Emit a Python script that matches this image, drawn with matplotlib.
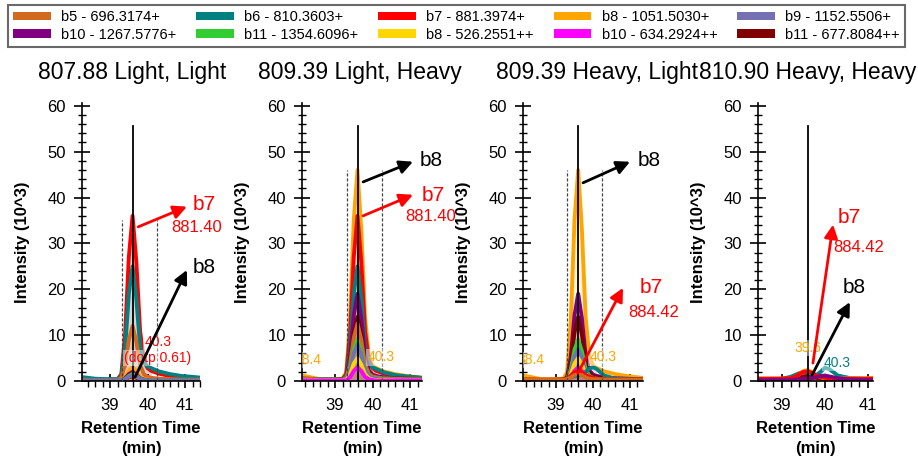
import matplotlib
matplotlib.use("Agg")
import matplotlib.pyplot as plt
from matplotlib.patches import Patch
from matplotlib.ticker import MultipleLocator
from matplotlib import font_manager

names = {f.name for f in font_manager.fontManager.ttflist}
NARROW = 'Liberation Sans Narrow' if 'Liberation Sans Narrow' in names else 'Liberation Sans'
plt.rcParams['font.family'] = ['Liberation Sans', 'DejaVu Sans']

# ---------------- data ----------------
series_labels = ["b5 - 696.3174+", "b6 - 810.3603+", "b7 - 881.3974+", "b8 - 1051.5030+",
                 "b9 - 1152.5506+", "b10 - 1267.5776+", "b11 - 1354.6096+", "b8 - 526.2551++",
                 "b10 - 634.2924++", "b11 - 677.8084++"]
series_colors = ["#D2691E", "#008080", "#FF0000", "#FFA500", "#7570B3",
                 "#800080", "#32CD32", "#FFD700", "#FF00FF", "#800000"]

panel_titles = ["807.88 Light, Light", "809.39 Light, Heavy",
                "809.39 Heavy, Light", "810.90 Heavy, Heavy"]

rt = [38.1, 38.3, 38.6, 38.9, 39.2, 39.3, 39.4, 39.5, 39.6, 39.7,
      39.8, 39.9, 40.0, 40.1, 40.3, 40.6, 40.9, 41.2, 41.45]

# Panel 1: Light, Light  (order = series_labels)
p1 = [
    [0.3, 0.3, 0.2, 0.2, 0.3, 0.6, 3.5, 9.0, 12.0, 8.6, 3.6, 1.5, 0.9, 0.7, 0.5, 0.4, 0.3, 0.3, 0.3],
    [0.9, 0.8, 0.5, 0.4, 0.4, 1.1, 7.0, 19.0, 25.0, 18.0, 7.5, 4.0, 3.2, 2.8, 2.1, 1.5, 1.1, 0.9, 0.7],
    [0.3, 0.3, 0.3, 0.3, 0.4, 1.5, 10.0, 27.0, 36.0, 26.0, 11.0, 4.5, 2.8, 2.2, 1.6, 1.1, 0.9, 0.7, 0.6],
    [0.1, 0.1, 0.1, 0.1, 0.1, 0.2, 0.8, 2.2, 3.0, 2.2, 0.9, 0.4, 0.3, 0.2, 0.2, 0.1, 0.1, 0.1, 0.1],
    [0.1, 0.1, 0.1, 0.1, 0.1, 0.1, 0.4, 0.9, 1.2, 0.9, 0.4, 0.2, 0.1, 0.1, 0.1, 0.1, 0.1, 0.1, 0.1],
    [0.1, 0.1, 0.1, 0.1, 0.1, 0.1, 0.6, 1.5, 2.0, 1.4, 0.6, 0.3, 0.2, 0.1, 0.1, 0.1, 0.1, 0.1, 0.1],
    [0.1, 0.1, 0.1, 0.1, 0.1, 0.1, 0.4, 1.1, 1.5, 1.1, 0.5, 0.2, 0.1, 0.1, 0.1, 0.1, 0.1, 0.1, 0.1],
    [0.1, 0.1, 0.1, 0.1, 0.1, 0.1, 0.2, 0.6, 0.8, 0.6, 0.2, 0.1, 0.1, 0.1, 0.1, 0.1, 0.1, 0.1, 0.1],
    [0.1, 0.1, 0.1, 0.1, 0.1, 0.1, 0.2, 0.4, 0.5, 0.4, 0.2, 0.1, 0.1, 0.1, 0.1, 0.1, 0.1, 0.1, 0.1],
    [0.1, 0.1, 0.1, 0.1, 0.1, 0.1, 0.3, 0.8, 1.0, 0.7, 0.3, 0.2, 0.1, 0.1, 0.1, 0.1, 0.1, 0.1, 0.1],
]
# Panel 2: Light, Heavy
p2 = [
    [0.6, 0.5, 0.3, 0.3, 0.3, 0.7, 3.6, 9.4, 12.5, 9.0, 3.8, 1.6, 1.0, 0.8, 0.6, 0.5, 0.4, 0.4, 0.3],
    [0.6, 0.5, 0.4, 0.4, 0.4, 1.1, 7.0, 19.0, 25.0, 18.0, 7.5, 3.8, 3.0, 2.6, 1.9, 1.3, 1.0, 0.8, 0.6],
    [0.4, 0.3, 0.3, 0.3, 0.4, 1.5, 10.0, 27.0, 36.0, 26.0, 11.0, 4.5, 2.8, 2.2, 1.6, 1.1, 0.9, 0.7, 0.6],
    [1.2, 0.9, 0.4, 0.4, 0.5, 1.9, 13.0, 35.0, 46.0, 33.0, 14.0, 5.5, 3.4, 2.8, 2.1, 1.5, 1.1, 0.8, 0.6],
    [0.2, 0.2, 0.2, 0.2, 0.2, 0.4, 2.2, 6.0, 8.0, 5.8, 2.4, 1.0, 0.6, 0.5, 0.3, 0.3, 0.2, 0.2, 0.2],
    [0.3, 0.3, 0.2, 0.2, 0.3, 0.8, 5.3, 14.3, 19.0, 13.7, 5.7, 2.3, 1.4, 1.1, 0.8, 0.6, 0.5, 0.4, 0.3],
    [0.2, 0.2, 0.2, 0.2, 0.2, 0.4, 2.5, 6.8, 9.0, 6.5, 2.7, 1.1, 0.7, 0.5, 0.4, 0.3, 0.2, 0.2, 0.2],
    [0.1, 0.1, 0.1, 0.1, 0.1, 0.2, 1.4, 3.8, 5.0, 3.6, 1.5, 0.6, 0.3, 0.2, 0.2, 0.1, 0.1, 0.1, 0.1],
    [0.1, 0.1, 0.1, 0.1, 0.1, 0.1, 0.8, 2.2, 3.0, 2.2, 0.9, 0.4, 0.2, 0.1, 0.1, 0.1, 0.1, 0.1, 0.1],
    [0.3, 0.3, 0.2, 0.2, 0.3, 0.6, 3.9, 10.5, 14.0, 10.1, 4.2, 1.7, 1.0, 0.8, 0.6, 0.5, 0.4, 0.3, 0.3],
]
# Panel 3: Heavy, Light
p3 = [
    [0.4, 0.4, 0.3, 0.3, 0.3, 0.4, 0.8, 1.3, 1.5, 1.3, 0.8, 0.5, 0.4, 0.4, 0.3, 0.3, 0.3, 0.3, 0.3],
    [0.2, 0.2, 0.2, 0.2, 0.3, 0.5, 0.8, 1.1, 1.2, 1.4, 2.0, 2.7, 3.0, 2.6, 1.2, 0.5, 0.4, 0.3, 0.3],
    [0.3, 0.3, 0.3, 0.3, 0.3, 0.5, 1.2, 1.9, 2.2, 1.9, 1.3, 0.9, 0.7, 0.5, 0.4, 0.3, 0.3, 0.3, 0.3],
    [1.2, 0.9, 0.4, 0.4, 0.5, 1.9, 13.0, 35.0, 46.0, 33.0, 14.0, 5.5, 3.4, 2.8, 2.1, 1.5, 1.1, 0.8, 0.6],
    [0.2, 0.2, 0.2, 0.2, 0.2, 0.4, 1.9, 5.3, 7.0, 5.0, 2.1, 0.9, 0.5, 0.4, 0.3, 0.2, 0.2, 0.2, 0.2],
    [0.3, 0.3, 0.2, 0.2, 0.3, 0.8, 5.3, 14.3, 19.0, 13.7, 5.7, 2.3, 1.4, 1.1, 0.8, 0.6, 0.5, 0.4, 0.3],
    [0.2, 0.2, 0.2, 0.2, 0.2, 0.4, 2.5, 6.8, 9.0, 6.5, 2.7, 1.1, 0.7, 0.5, 0.4, 0.3, 0.2, 0.2, 0.2],
    [0.1, 0.1, 0.1, 0.1, 0.1, 0.2, 1.4, 3.8, 5.0, 3.6, 1.5, 0.6, 0.3, 0.2, 0.2, 0.1, 0.1, 0.1, 0.1],
    [0.1, 0.1, 0.1, 0.1, 0.1, 0.1, 0.8, 2.2, 3.0, 2.2, 0.9, 0.4, 0.2, 0.1, 0.1, 0.1, 0.1, 0.1, 0.1],
    [0.3, 0.3, 0.2, 0.2, 0.3, 0.6, 3.9, 10.5, 14.0, 10.1, 4.2, 1.7, 1.0, 0.8, 0.6, 0.5, 0.4, 0.3, 0.3],
]
# Panel 4: Heavy, Heavy
p4 = [
    [0.5, 0.5, 0.5, 0.5, 0.5, 0.6, 0.8, 1.0, 1.1, 1.0, 0.8, 0.7, 0.6, 0.6, 0.5, 0.5, 0.5, 0.5, 0.5],
    [0.2, 0.2, 0.2, 0.3, 0.9, 1.3, 1.7, 2.0, 1.9, 1.5, 1.3, 2.0, 2.9, 2.6, 1.2, 0.6, 0.5, 0.4, 0.3],
    [0.5, 0.5, 0.5, 0.5, 0.6, 0.9, 1.5, 2.0, 2.1, 1.8, 1.2, 0.9, 0.7, 0.6, 0.5, 0.5, 0.5, 0.5, 0.5],
    [0.5, 0.5, 0.5, 0.5, 0.5, 0.8, 1.5, 2.2, 2.4, 1.9, 1.1, 0.8, 0.6, 0.6, 0.5, 0.6, 0.5, 0.8, 0.5],
    [0.1, 0.1, 0.1, 0.1, 0.1, 0.2, 0.3, 0.4, 0.4, 0.4, 0.3, 0.3, 0.4, 0.4, 0.2, 0.1, 0.1, 0.1, 0.1],
    [0.2, 0.2, 0.2, 0.2, 0.2, 0.3, 0.4, 0.5, 0.5, 0.6, 0.8, 1.1, 1.2, 1.0, 0.6, 0.3, 0.2, 0.2, 0.2],
    [0.1, 0.1, 0.1, 0.1, 0.1, 0.2, 0.3, 0.4, 0.4, 0.4, 0.3, 0.3, 0.3, 0.3, 0.2, 0.1, 0.1, 0.1, 0.1],
    [0.1, 0.1, 0.1, 0.1, 0.1, 0.2, 0.3, 0.4, 0.4, 0.4, 0.3, 0.2, 0.2, 0.2, 0.1, 0.1, 0.1, 0.1, 0.1],
    [0.1, 0.1, 0.1, 0.1, 0.1, 0.1, 0.2, 0.3, 0.3, 0.3, 0.2, 0.2, 0.2, 0.2, 0.1, 0.1, 0.1, 0.1, 0.1],
    [0.2, 0.2, 0.2, 0.2, 0.3, 0.4, 0.7, 1.0, 1.1, 1.0, 0.7, 0.5, 0.4, 0.3, 0.3, 0.2, 0.2, 0.2, 0.2],
]
panel_data = [p1, p2, p3, p4]

peak_rt = 39.6
peak_line_top = 55.5
integ_bounds = [(39.32, 40.24), (39.32, 40.24), (39.30, 40.24), None]
integ_height = [35, 46, 46, 0]
xlims = [(38.25, 41.4), (38.12, 41.32), (38.11, 41.35), (38.44, 41.12)]

# arrows: (label, sub-label, colour, tail(x,y), head(x,y), label pos, sub-label pos)
arrows = [
    [("b7", "881.40", "red", (39.75, 33.6), (41.05, 38.0), (41.2, 38.4), (40.62, 33.4)),
     ("b8", None, "black", (39.67, 0.9), (41.05, 24.2), (41.2, 24.7), None)],
    [("b8", None, "black", (39.75, 43.4), (41.08, 47.8), (41.25, 48.0), None),
     ("b7", "881.40", "red", (39.75, 36.0), (41.08, 40.6), (41.3, 40.4), (40.86, 35.8))],
    [("b8", None, "black", (39.73, 43.2), (41.0, 47.8), (41.2, 48.0), None),
     ("b7", "884.42", "red", (39.59, 1.7), (40.81, 20.3), (41.25, 20.4), (40.95, 15.0))],
    [("b7", "884.42", "red", (39.72, 3.9), (40.19, 34.1), (40.3, 35.6), (40.19, 29.0)),
     ("b8", None, "black", (39.70, 1.3), (40.58, 17.2), (40.42, 20.4), None)],
]
# small peak labels: (text, colour, x, y)
peak_labels = [
    [("40.3", "red", 40.28, 8.5), ("(dotp 0.61)", "red", 40.28, 5.0)],
    [("38.4", "orange", 38.28, 4.6), ("40.3", "orange", 40.23, 5.2)],
    [("38.4", "orange", 38.33, 4.6), ("40.3", "orange", 40.27, 5.2)],
    [("39.6", "orange", 39.6, 7.2), ("40.3", "#008080", 40.28, 3.9)],
]

# ---------------- layout ----------------
W, H = 918, 465
fig = plt.figure(figsize=(W / 100, H / 100), dpi=100)
axes_px = [(82, 118), (302, 120), (523, 120), (758, 115)]
y0_px, ytop_px = 381, 103
title_x = [132, 360, 597, 808]

for i, (left, width) in enumerate(axes_px):
    ax = fig.add_axes([left / W, 1 - y0_px / H, width / W, (y0_px - ytop_px) / H])
    data = panel_data[i]
    # tiny traces first (smallest first), then big peaks from largest to smallest
    order = sorted(range(len(data)),
                   key=lambda k: (0, max(data[k])) if max(data[k]) < 1.15
                   else (1, -max(data[k])))
    for z, k in enumerate(order):
        ax.plot(rt, data[k], color=series_colors[k], lw=2.8, zorder=2 + z * 0.01,
                solid_joinstyle='round', solid_capstyle='butt')
        if integ_bounds[i] is not None:
            lo, hi = integ_bounds[i]
            ax.fill_between(rt, 0, data[k], where=[lo <= t <= hi for t in rt],
                            color=series_colors[k], alpha=0.13, lw=0, zorder=1)
    ax.plot([peak_rt, peak_rt], [0, peak_line_top], color='black', lw=1.3, zorder=5)
    if integ_bounds[i] is not None:
        for b in integ_bounds[i]:
            ax.plot([b, b], [0, integ_height[i]], color='#444444', lw=0.9,
                    ls=(0, (2.5, 1.5)), zorder=4)

    ax.set_xlim(*xlims[i])
    ax.set_ylim(0, 60.6)
    ax.xaxis.set_major_locator(MultipleLocator(1))
    ax.xaxis.set_minor_locator(MultipleLocator(0.2))
    ax.yaxis.set_major_locator(MultipleLocator(10))
    ax.yaxis.set_minor_locator(MultipleLocator(2))
    ax.tick_params(axis='y', which='major', direction='inout', length=11, width=1.2,
                   labelsize=12, pad=6)
    ax.tick_params(axis='y', which='minor', direction='inout', length=6, width=1.0)
    ax.tick_params(axis='x', which='major', direction='inout', length=10, width=1.2,
                   labelsize=12, pad=7)
    ax.tick_params(axis='x', which='minor', direction='out', length=4, width=1.0)
    for s in ('top', 'right'):
        ax.spines[s].set_visible(False)
    for s in ('left', 'bottom'):
        ax.spines[s].set_linewidth(1.2)
    ax.set_facecolor('none')

    ax.set_ylabel("Intensity (10^3)", fontsize=12, fontweight='bold')
    ax.yaxis.set_label_coords(-52 / width, 0.5)
    ax.set_xlabel("Retention Time\n(min)", fontsize=12, fontweight='bold',
                  linespacing=1.45)
    ax.xaxis.set_label_coords(0.5, -40 / (y0_px - ytop_px))

    for (lab, sub, col, tail, head, lpos, spos) in arrows[i]:
        ax.annotate("", xy=head, xytext=tail, annotation_clip=False,
                    arrowprops=dict(arrowstyle='-|>', color=col, lw=2.0,
                                    mutation_scale=20, shrinkA=0, shrinkB=0),
                    zorder=7)
        ax.text(lpos[0], lpos[1], lab, color=col, fontsize=15, ha='left', va='center',
                clip_on=False, zorder=8)
        if sub:
            ax.text(spos[0], spos[1], sub, color=col, fontsize=12, ha='left', va='center',
                    clip_on=False, zorder=8)
    for (txt, col, x, y) in peak_labels[i]:
        t = ax.text(x, y, txt, color=col, fontsize=10, ha='center', va='center', zorder=6,
                    bbox=dict(facecolor='white', alpha=0.45, edgecolor='none', pad=1))
        t.set_clip_on(True)

    fig.text(title_x[i] / W, 1 - 72 / H, panel_titles[i], fontsize=16.5,
             ha='center', va='center')

# legend (matplotlib fills column-wise, so interleave the two rows)
handles = [Patch(facecolor=c, edgecolor='none') for c in series_colors]
idx = [0, 5, 1, 6, 2, 7, 3, 8, 4, 9]
leg = fig.legend([handles[k] for k in idx], [series_labels[k] for k in idx],
                 ncol=5, loc='lower left', mode='expand',
                 bbox_to_anchor=(8 / W, 1 - 47 / H, 897 / W, 42 / H),
                 prop={'family': NARROW, 'size': 10.5}, frameon=True, fancybox=False,
                 borderaxespad=0, handlelength=2.6, handleheight=0.55, handletextpad=0.7,
                 labelspacing=0.25, borderpad=0.35, columnspacing=1.0)
leg.get_frame().set_edgecolor('#444444')
leg.get_frame().set_linewidth(1.5)

fig.savefig("out.png", dpi=100)
